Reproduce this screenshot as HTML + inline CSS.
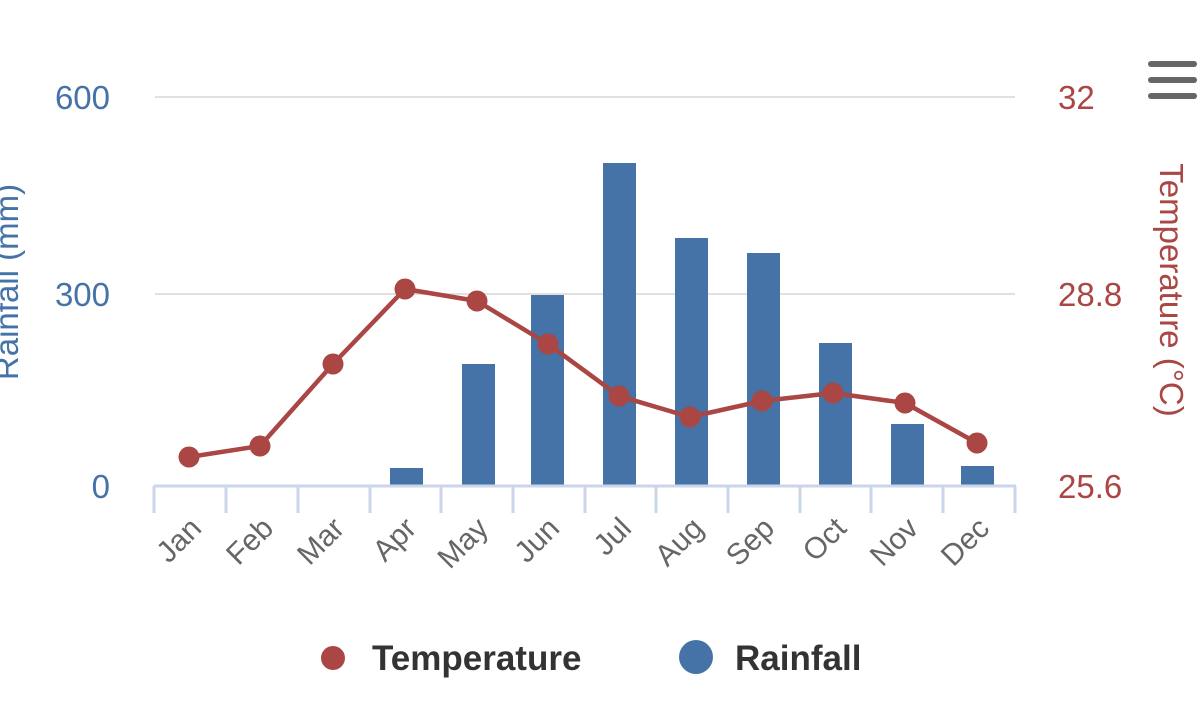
<!DOCTYPE html>
<html><head><meta charset="utf-8"><style>
html,body{margin:0;padding:0;background:#fff;}
svg{display:block;font-family:"Liberation Sans","DejaVu Sans",sans-serif;}
</style></head><body>
<svg width="1200" height="716" viewBox="0 0 1200 716" xmlns="http://www.w3.org/2000/svg">
<g stroke="#e0e0e0" stroke-width="2">
<line x1="155" y1="97" x2="1015" y2="97"/>
<line x1="155" y1="294" x2="1015" y2="294"/>
</g>
<g fill="#4572a7">
<rect x="390" y="468" width="33" height="17"/>
<rect x="462" y="364" width="33" height="121"/>
<rect x="531" y="295" width="33" height="190"/>
<rect x="603" y="163" width="33" height="322"/>
<rect x="675" y="238" width="33" height="247"/>
<rect x="747" y="253" width="33" height="232"/>
<rect x="819" y="343" width="33" height="142"/>
<rect x="891" y="424" width="33" height="61"/>
<rect x="961" y="466" width="33" height="19"/>
</g>
<g stroke="#ccd6eb" stroke-width="3">
<line x1="154" y1="486" x2="1016" y2="486"/>
<line x1="154" y1="486" x2="154" y2="513"/>
<line x1="226" y1="486" x2="226" y2="513"/>
<line x1="298" y1="486" x2="298" y2="513"/>
<line x1="370" y1="486" x2="370" y2="513"/>
<line x1="441" y1="486" x2="441" y2="513"/>
<line x1="513" y1="486" x2="513" y2="513"/>
<line x1="585" y1="486" x2="585" y2="513"/>
<line x1="656" y1="486" x2="656" y2="513"/>
<line x1="728" y1="486" x2="728" y2="513"/>
<line x1="800" y1="486" x2="800" y2="513"/>
<line x1="871" y1="486" x2="871" y2="513"/>
<line x1="943" y1="486" x2="943" y2="513"/>
<line x1="1015" y1="486" x2="1015" y2="513"/>
</g>
<polyline fill="none" stroke="#aa4643" stroke-width="4.5" stroke-linejoin="round" points="189,457 260,446 333,364 405,289 477,301 548,344 619,396 690,417 762,401 833,393 905,403 977,443"/>
<g fill="#aa4643">
<circle cx="189" cy="457" r="10.5"/><circle cx="260" cy="446" r="10.5"/><circle cx="333" cy="364" r="10.5"/><circle cx="405" cy="289" r="10.5"/><circle cx="477" cy="301" r="10.5"/><circle cx="548" cy="344" r="10.5"/><circle cx="619" cy="396" r="10.5"/><circle cx="690" cy="417" r="10.5"/><circle cx="762" cy="401" r="10.5"/><circle cx="833" cy="393" r="10.5"/><circle cx="905" cy="403" r="10.5"/><circle cx="977" cy="443" r="10.5"/>
</g>
<g fill="#666" font-size="30" text-anchor="end">
<text transform="translate(203,530) rotate(-45)">Jan</text>
<text transform="translate(275,530) rotate(-45)">Feb</text>
<text transform="translate(346,530) rotate(-45)">Mar</text>
<text transform="translate(418,530) rotate(-45)">Apr</text>
<text transform="translate(490,530) rotate(-45)">May</text>
<text transform="translate(561,530) rotate(-45)">Jun</text>
<text transform="translate(633,530) rotate(-45)">Jul</text>
<text transform="translate(705,530) rotate(-45)">Aug</text>
<text transform="translate(776,530) rotate(-45)">Sep</text>
<text transform="translate(848,530) rotate(-45)">Oct</text>
<text transform="translate(920,530) rotate(-45)">Nov</text>
<text transform="translate(991,530) rotate(-45)">Dec</text>
</g>
<g fill="#4572a7" font-size="33" text-anchor="end">
<text x="110" y="109">600</text>
<text x="110" y="306">300</text>
<text x="110" y="498">0</text>
<text transform="translate(18,282) rotate(-90)" text-anchor="middle">Rainfall (mm)</text>
</g>
<g fill="#aa4643" font-size="33" text-anchor="start">
<text x="1058" y="109">32</text>
<text x="1058" y="306">28.8</text>
<text x="1058" y="498">25.6</text>
<text transform="translate(1160,290) rotate(90)" text-anchor="middle">Temperature (°C)</text>
</g>
<g stroke="#666" stroke-width="6" stroke-linecap="round">
<line x1="1151" y1="64" x2="1194" y2="64"/>
<line x1="1151" y1="80" x2="1194" y2="80"/>
<line x1="1151" y1="96" x2="1194" y2="96"/>
</g>
<circle cx="333" cy="658" r="12" fill="#aa4643"/>
<text x="372" y="670" font-size="35" font-weight="bold" fill="#333">Temperature</text>
<circle cx="696" cy="657" r="17" fill="#4572a7"/>
<text x="735" y="670" font-size="35" font-weight="bold" fill="#333">Rainfall</text>
</svg>
</body></html>
